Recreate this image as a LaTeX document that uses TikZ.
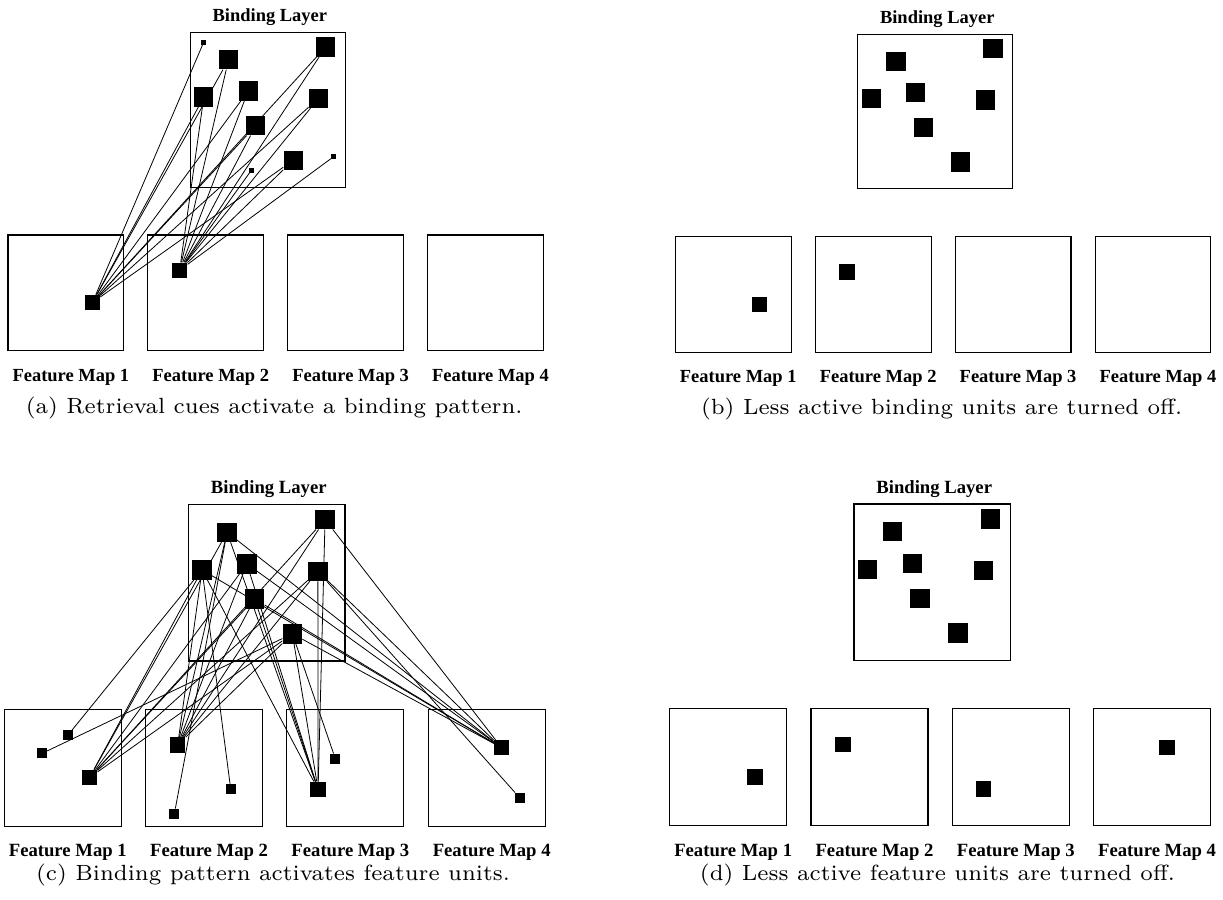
\documentclass[tikz,border=0pt]{standalone}
\usepackage{fontspec}
\setmainfont{Liberation Serif}
\newfontfamily\fuenteley{lmroman7-regular.otf}

\tikzset{
    capa/.style={draw, line width=0.8pt, minimum size=117.3pt, inner sep=0pt},
    mapa/.style={draw, line width=0.8pt, minimum size=87.75pt, inner sep=0pt},
    grande/.style={fill=black, minimum size=14.6pt, inner sep=0pt},
    chica/.style={fill=black, minimum size=3.75pt, inner sep=0pt},
    activa/.style={fill=black, minimum size=11.5pt, inner sep=0pt},
    debil/.style={fill=black, minimum size=7.5pt, inner sep=0pt},
    enlace/.style={line width=0.6pt},
    etiqueta/.style={font=\fontsize{14}{16}\selectfont\bfseries, anchor=base, inner sep=0pt},
    leyenda/.style={font=\fuenteley\fontsize{16.5}{19}\selectfont, anchor=base, inner sep=0pt}
}

% Posiciones de las unidades de enlace (desde la esquina superior izquierda)
\def\unidades{1/39/28.2, 2/137/15.4, 3/14/65.8, 4/58.8/59.8, 5/129.8/67.2, 6/66.5/94.8, 7/104.3/129.7}

% Capa de enlace y cuatro mapas de rasgos
\newcommand{\capabase}[1]{%
    \node[capa] (#1-capa) at (262.5,-126.5) {};
    \node[etiqueta] (#1-titulo) at ([shift={(2,-10.3)}]#1-capa.north) {Binding Layer};
    \foreach \n/\x/\y in \unidades
        \node[grande] (#1-u\n) at ([shift={(\x,\y)}]#1-capa.north west) {};
    \foreach \i in {1,...,4} {
        \node[mapa] (#1-m\i) at ({141.3*(\i-1)+58.5}, 58.5) {};
        \node[etiqueta] (#1-e\i) at ([shift={(5,30)}]#1-m\i.south) {Feature Map \i};
    }
}

\begin{document}
\begin{tikzpicture}[x=0.75pt, y=-0.75pt]
    \useasboundingbox (0,0) rectangle (1223,899);

    % (a) Claves de recuperación
    \begin{scope}[shift={(8,235)}, scale=0.99, transform shape]
        \capabase{a}
        \node[chica] (a-s1) at ([shift={(13.9,10.5)}]a-capa.north west) {};
        \node[chica] (a-s2) at ([shift={(62.1,139.8)}]a-capa.north west) {};
        \node[chica] (a-s3) at ([shift={(145.3,126)}]a-capa.north west) {};
        \node[activa] (a-k1) at ([shift={(85.8,68.8)}]a-m1.north west) {};
        \node[activa] (a-k2) at ([shift={(32.6,36.1)}]a-m2.north west) {};
        \foreach \i in {1,...,7} {
            \draw[enlace] (a-k1) -- (a-u\i);
            \draw[enlace] (a-k2) -- (a-u\i);
        }
        \draw[enlace] (a-k1) -- (a-s1);
        \draw[enlace] (a-k2) -- (a-s2);
        \draw[enlace] (a-k2) -- (a-s3);
    \end{scope}

    % (b) Se apagan las unidades de enlace débiles
    \begin{scope}[shift={(675.4,236.7)}, scale=0.99, transform shape]
        \capabase{b}
        \node[activa] (b-k1) at ([shift={(85.8,68.8)}]b-m1.north west) {};
        \node[activa] (b-k2) at ([shift={(32.6,36.1)}]b-m2.north west) {};
    \end{scope}

    % (c) El patrón activa las unidades de rasgo
    \begin{scope}[shift={(4.3,709.3)}, transform shape]
        \capabase{c}
        \node[activa] (c-f1) at ([shift={(85.8,68.8)}]c-m1.north west) {};
        \node[activa] (c-f2) at ([shift={(32.6,36.1)}]c-m2.north west) {};
        \node[activa] (c-f3) at ([shift={(31.7,80.7)}]c-m3.north west) {};
        \node[activa] (c-f4) at ([shift={(74,39)}]c-m4.north west) {};
        \node[debil] (c-d1) at ([shift={(63.9,26.7)}]c-m1.north west) {};
        \node[debil] (c-d2) at ([shift={(38.1,44.7)}]c-m1.north west) {};
        \node[debil] (c-d3) at ([shift={(85.7,80.7)}]c-m2.north west) {};
        \node[debil] (c-d4) at ([shift={(29.3,105)}]c-m2.north west) {};
        \node[debil] (c-d5) at ([shift={(49,50)}]c-m3.north west) {};
        \node[debil] (c-d6) at ([shift={(92,89)}]c-m4.north west) {};
        \foreach \i in {1,...,7}
            \foreach \j in {1,...,4}
                \draw[enlace] (c-u\i) -- (c-f\j);
        % cada unidad débil recibe un solo enlace
        \foreach \d/\u in {1/3, 2/7, 3/3, 4/1, 5/7, 6/5}
            \draw[enlace] (c-u\u) -- (c-d\d);
    \end{scope}

    % (d) Se apagan las unidades de rasgo débiles
    \begin{scope}[shift={(669.7,708.7)}, transform shape]
        \capabase{d}
        \node[activa] (d-f1) at ([shift={(85.8,68.8)}]d-m1.north west) {};
        \node[activa] (d-f2) at ([shift={(32.6,36.1)}]d-m2.north west) {};
        \node[activa] (d-f3) at ([shift={(31.7,80.7)}]d-m3.north west) {};
        \node[activa] (d-f4) at ([shift={(74,39)}]d-m4.north west) {};
    \end{scope}

    % Leyendas
    \node[leyenda] (ley-a) at (274.2,413.3) {(a) Retrieval cues activate a binding pattern.};
    \node[leyenda] (ley-b) at (941.6,414) {(b) Less active binding units are turned off.};
    \node[leyenda] (ley-c) at (273,880.6) {(c) Binding pattern activates feature units.};
    \node[leyenda] (ley-d) at (937.5,880) {(d) Less active feature units are turned off.};
\end{tikzpicture}
\end{document}
